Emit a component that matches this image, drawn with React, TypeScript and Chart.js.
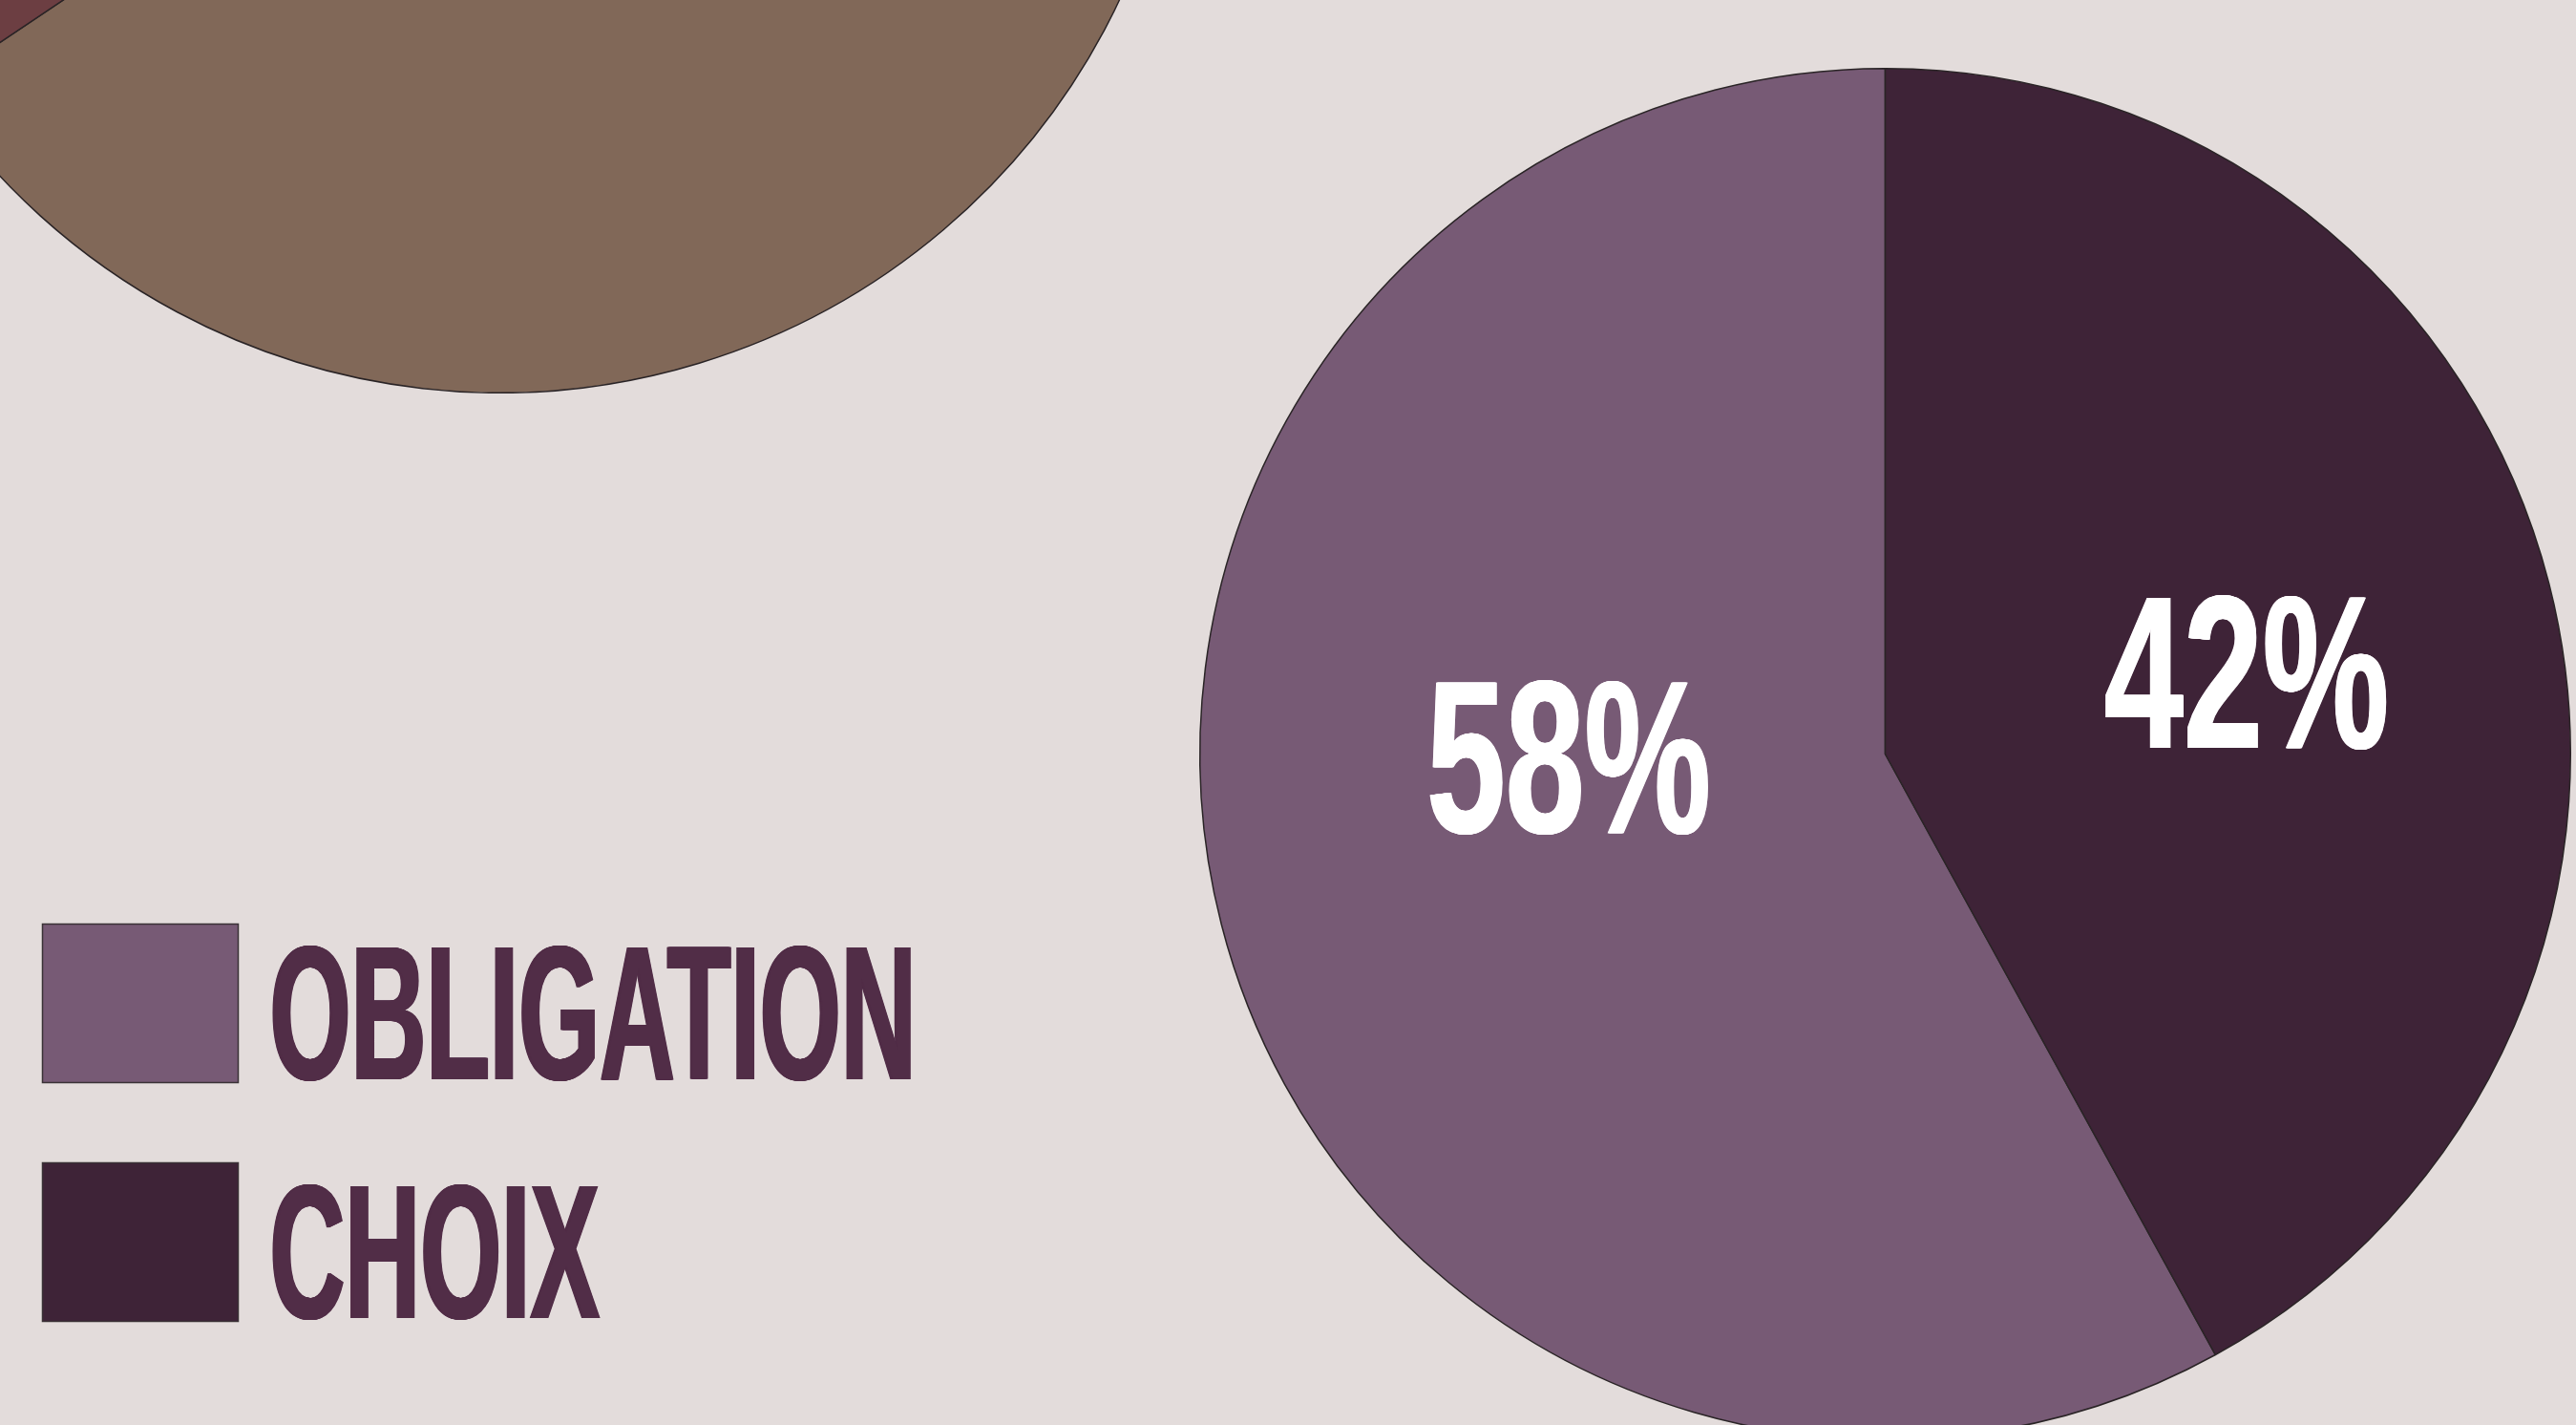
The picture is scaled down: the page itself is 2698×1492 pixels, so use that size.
import React, { useEffect, useRef } from 'react';
import { Chart, registerables } from 'chart.js';

Chart.register(...registerables);

// ---- data ----
const categories = ['OBLIGATION', 'CHOIX'];
const shares = [58, 42];
const sliceColors = ['#775a75', '#3e2337'];

// partially visible second pie (top-left, cropped)
const backCategories = ['Part A', 'Part B'];
const backShares = [65.6, 34.4];
const backColors = ['#816858', '#6c3e42'];

const percentLabels = shares.map((v) => `${v}%`);

// ---- layout / style ----
const PAGE_W = 2698;
const PAGE_H = 1492;
const BG = '#e3dcdb';
const EDGE = '#2a2426';
const TEXT_COLOR = '#512d47';
const FONT_FAMILY = "'Liberation Sans Narrow', 'Liberation Sans', 'DejaVu Sans Condensed', sans-serif";
const LABEL_SHIFT = [
  [16, -7],
  [31, 83],
];

function fontFor(ctx: CanvasRenderingContext2D, capHeight: number) {
  const test = 100;
  ctx.font = `bold ${test}px ${FONT_FAMILY}`;
  const m = ctx.measureText('H');
  const asc = m.actualBoundingBoxAscent || 71.6;
  const size = (capHeight / asc) * test;
  return `bold ${size}px ${FONT_FAMILY}`;
}

// draws horizontally condensed text, thickened only horizontally (vertical stems)
function drawCondensed(
  ctx: CanvasRenderingContext2D,
  text: string,
  x: number,
  baseline: number,
  sx: number,
  align: 'left' | 'center',
  smear: number
) {
  ctx.save();
  ctx.textAlign = align;
  ctx.textBaseline = 'alphabetic';
  const start = align === 'center' ? -smear / 2 : 0;
  for (let k = 0; k <= smear; k += 0.5) {
    ctx.save();
    ctx.translate(x + start + k, baseline);
    ctx.scale(sx, 1);
    ctx.fillText(text, 0, 0);
    ctx.restore();
  }
  ctx.restore();
}

const legendPlugin = {
  id: 'customLegend',
  afterDraw(chart: any) {
    const ctx: CanvasRenderingContext2D = chart.ctx;
    const boxX = 44;
    const boxW = 206;
    const boxH = 167;
    const boxTops = [967, 1217];
    const textX = 281;
    const baselines = [1130, 1380];
    const smear = 3;
    ctx.save();
    ctx.font = fontFor(ctx, 140);
    const sx = (680 - smear) / ctx.measureText(categories[0]).width;
    categories.forEach((c, i) => {
      ctx.fillStyle = sliceColors[i];
      ctx.fillRect(boxX, boxTops[i], boxW, boxH);
      ctx.strokeStyle = '#3a3236';
      ctx.lineWidth = 1.5;
      ctx.strokeRect(boxX + 0.5, boxTops[i] + 0.5, boxW - 1, boxH - 1);
      ctx.fillStyle = TEXT_COLOR;
      drawCondensed(ctx, c, textX, baselines[i], sx, 'left', smear);
    });
    ctx.restore();
  },
};

const percentPlugin = {
  id: 'percentLabels',
  afterDatasetsDraw(chart: any) {
    const ctx: CanvasRenderingContext2D = chart.ctx;
    const meta = chart.getDatasetMeta(0);
    const smear = 2;
    ctx.save();
    ctx.font = fontFor(ctx, 160);
    const sx = (300 - smear) / ctx.measureText(percentLabels[0]).width;
    ctx.fillStyle = '#ffffff';
    meta.data.forEach((arc: any, i: number) => {
      const p = arc.tooltipPosition(false);
      drawCondensed(ctx, percentLabels[i], p.x + LABEL_SHIFT[i][0], p.y + LABEL_SHIFT[i][1], sx, 'center', smear);
    });
    ctx.restore();
  },
};

export default function App() {
  const mainRef = useRef<HTMLCanvasElement>(null);
  const backRef = useRef<HTMLCanvasElement>(null);

  useEffect(() => {
    const total = shares.reduce((a, b) => a + b, 0);
    const main = new Chart(mainRef.current as HTMLCanvasElement, {
      type: 'pie',
      data: {
        labels: categories,
        datasets: [
          {
            data: shares,
            backgroundColor: sliceColors,
            borderColor: EDGE,
            borderWidth: 1.5,
          },
        ],
      },
      options: {
        responsive: false,
        animation: false,
        rotation: (shares[1] / total) * 360,
        layout: { padding: { left: 1256, top: 71, right: 5, bottom: 92 } },
        plugins: { legend: { display: false }, tooltip: { enabled: false } },
      },
      plugins: [legendPlugin, percentPlugin],
    });

    const back = new Chart(backRef.current as HTMLCanvasElement, {
      type: 'pie',
      data: {
        labels: backCategories,
        datasets: [
          {
            data: backShares,
            backgroundColor: backColors,
            borderColor: EDGE,
            borderWidth: 1.5,
          },
        ],
      },
      options: {
        responsive: false,
        animation: false,
        layout: { padding: 0 },
        plugins: { legend: { display: false }, tooltip: { enabled: false } },
      },
    });

    return () => {
      main.destroy();
      back.destroy();
    };
  }, []);

  return (
    <div
      style={{
        position: 'fixed',
        left: 0,
        top: 0,
        width: PAGE_W,
        height: PAGE_H,
        overflow: 'hidden',
        background: BG,
      }}
    >
      <canvas
        ref={backRef}
        width={1437}
        height={1437}
        style={{ position: 'absolute', left: -195, top: -1025, width: 1437, height: 1437 }}
      />
      <canvas
        ref={mainRef}
        width={PAGE_W}
        height={1600}
        style={{ position: 'absolute', left: 0, top: 0, width: PAGE_W, height: 1600 }}
      />
    </div>
  );
}
